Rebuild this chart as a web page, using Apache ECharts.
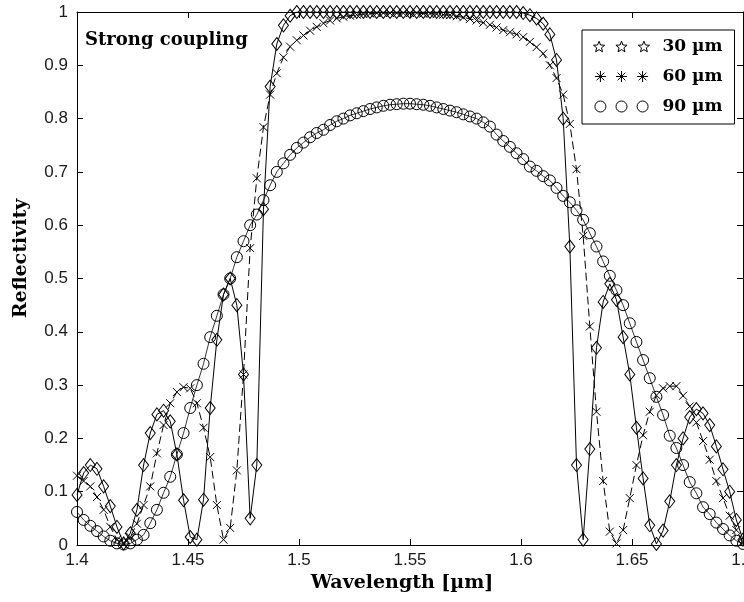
<!DOCTYPE html>
<html lang="en">
<head>
<meta charset="UTF-8">
<title>Strong coupling</title>
<script src="https://cdn.jsdelivr.net/npm/echarts@6/dist/echarts.min.js"></script>
<style>html,body{margin:0;padding:0;background:#fff;}</style>
</head>
<body>
<div id="box" style="width:744px;height:602px;"></div>
<script>
// wavelength grid (um)
var wavelength = [
    1.400,1.403,1.406,1.409,1.412,1.415,1.418,1.421,1.424,1.427,
    1.430,1.433,1.436,1.439,1.442,1.445,1.448,1.451,1.454,1.457,
    1.460,1.463,1.466,1.469,1.472,1.475,1.478,1.481,1.484,1.487,
    1.490,1.493,1.496,1.499,1.502,1.505,1.508,1.511,1.514,1.517,
    1.520,1.523,1.526,1.529,1.532,1.535,1.538,1.541,1.544,1.547,
    1.550,1.553,1.556,1.559,1.562,1.565,1.568,1.571,1.574,1.577,
    1.580,1.583,1.586,1.589,1.592,1.595,1.598,1.601,1.604,1.607,
    1.610,1.613,1.616,1.619,1.622,1.625,1.628,1.631,1.634,1.637,
    1.640,1.643,1.646,1.649,1.652,1.655,1.658,1.661,1.664,1.667,
    1.670,1.673,1.676,1.679,1.682,1.685,1.688,1.691,1.694,1.697,
    1.700
];
// 30 um (diamonds, solid)
var r30 = [
    0.094,0.135,0.150,0.143,0.110,0.073,0.034,0.003,0.022,0.066,
    0.150,0.210,0.245,0.252,0.232,0.170,0.084,0.015,0.010,0.085,
    0.257,0.385,0.470,0.500,0.450,0.320,0.050,0.150,0.630,0.860,
    0.940,0.975,0.993,1.000,1.000,1.000,1.000,1.000,1.000,1.000,
    1.000,1.000,1.000,1.000,1.000,1.000,1.000,1.000,1.000,1.000,
    1.000,1.000,1.000,1.000,1.000,1.000,1.000,1.000,1.000,1.000,
    1.000,1.000,1.000,1.000,1.000,1.000,1.000,0.998,0.994,0.988,
    0.978,0.958,0.910,0.800,0.560,0.150,0.010,0.180,0.370,0.456,
    0.490,0.460,0.390,0.320,0.220,0.125,0.037,0.002,0.027,0.082,
    0.150,0.200,0.240,0.255,0.247,0.225,0.185,0.142,0.100,0.047,
    0.010
];
// 60 um (crosses, dashed)
var r60 = [
    0.130,0.120,0.110,0.090,0.066,0.034,0.010,0.002,0.015,0.040,
    0.075,0.110,0.172,0.225,0.266,0.287,0.296,0.294,0.266,0.220,
    0.165,0.075,0.010,0.032,0.140,0.320,0.557,0.688,0.784,0.845,
    0.885,0.915,0.935,0.947,0.956,0.965,0.972,0.979,0.984,0.988,
    0.991,0.993,0.995,0.996,0.997,0.998,0.998,0.998,0.998,0.998,
    0.998,0.998,0.997,0.997,0.996,0.995,0.994,0.992,0.990,0.987,
    0.984,0.980,0.976,0.971,0.966,0.962,0.958,0.953,0.944,0.934,
    0.922,0.900,0.876,0.845,0.790,0.705,0.580,0.410,0.250,0.120,
    0.025,0.003,0.028,0.088,0.150,0.206,0.250,0.281,0.294,0.298,
    0.298,0.280,0.260,0.230,0.195,0.160,0.120,0.088,0.055,0.028,
    0.005
];
// 90 um (circles)
var r90 = [
    0.062,0.047,0.036,0.026,0.016,0.008,0.003,0.001,0.003,0.010,
    0.019,0.041,0.066,0.098,0.128,0.170,0.210,0.257,0.300,0.340,
    0.390,0.430,0.470,0.500,0.540,0.570,0.600,0.620,0.647,0.675,
    0.700,0.716,0.732,0.745,0.755,0.765,0.773,0.779,0.788,0.795,
    0.800,0.806,0.810,0.814,0.818,0.821,0.824,0.826,0.827,0.828,
    0.828,0.827,0.826,0.824,0.821,0.818,0.815,0.812,0.808,0.804,
    0.800,0.793,0.785,0.770,0.758,0.747,0.735,0.724,0.710,0.702,
    0.692,0.684,0.670,0.655,0.643,0.628,0.610,0.585,0.560,0.532,
    0.505,0.478,0.450,0.416,0.381,0.347,0.313,0.278,0.244,0.205,
    0.182,0.150,0.118,0.097,0.071,0.058,0.042,0.030,0.018,0.008,
    0.002
];
var seriesNames = ['30 \u00b5m', '60 \u00b5m', '90 \u00b5m'];

function pairs(ys) {
    return wavelength.map(function (w, i) { return [w, ys[i]]; });
}

// legend icons: three markers in a row
var starIcon = 'path://M7,1L8.53,4.9L12.71,5.15L9.47,7.8L10.53,11.85L7,9.6L3.47,11.85L4.53,7.8L1.29,5.15L5.47,4.9Z'
    + 'M30,1L31.53,4.9L35.71,5.15L32.47,7.8L33.53,11.85L30,9.6L26.47,11.85L27.53,7.8L24.29,5.15L28.47,4.9Z'
    + 'M53,1L54.53,4.9L58.71,5.15L55.47,7.8L56.53,11.85L53,9.6L49.47,11.85L50.53,7.8L47.29,5.15L51.47,4.9Z';
var astIcon = 'path://M7,1L7,13M1,7L13,7M2.8,2.8L11.2,11.2M11.2,2.8L2.8,11.2'
    + 'M30,1L30,13M24,7L36,7M25.8,2.8L34.2,11.2M34.2,2.8L25.8,11.2'
    + 'M53,1L53,13M47,7L59,7M48.8,2.8L57.2,11.2M57.2,2.8L48.8,11.2';
var circIcon = 'path://M1,7a6,6 0 1,0 12,0a6,6 0 1,0 -12,0'
    + 'M24,7a6,6 0 1,0 12,0a6,6 0 1,0 -12,0'
    + 'M47,7a6,6 0 1,0 12,0a6,6 0 1,0 -12,0';

var hollow = {color: 'rgba(0,0,0,0)', borderColor: '#000', borderWidth: 1};
var serif = 'DejaVu Serif';

var myChart = echarts.init(document.getElementById('box'));
var option = {
    animation: false,
    backgroundColor: '#fff',
    title: {
        text: 'Strong coupling',
        left: 85,
        top: 31,
        padding: 0,
        textStyle: {fontFamily: serif, fontWeight: 'bold', fontSize: 18, color: '#000'}
    },
    legend: {
        orient: 'vertical',
        left: 582,
        top: 30,
        padding: [8, 12, 9, 11],
        itemGap: 13,
        itemWidth: 56,
        itemHeight: 11,
        selectedMode: false,
        borderColor: '#000',
        borderWidth: 1,
        borderRadius: 0,
        backgroundColor: '#fff',
        textStyle: {fontFamily: serif, fontWeight: 'bold', fontSize: 17, color: '#000', padding: [0, 0, 0, 8]},
        data: [
            {name: seriesNames[0], icon: starIcon, itemStyle: hollow},
            {name: seriesNames[1], icon: astIcon, itemStyle: hollow},
            {name: seriesNames[2], icon: circIcon, itemStyle: hollow}
        ]
    },
    grid: {left: 77, right: 1, top: 12, bottom: 57, outerBoundsMode: 'none', containLabel: false},
    xAxis: [{
        type: 'value', min: 1.4, max: 1.7, interval: 0.05,
        name: 'Wavelength [\u00b5m]', nameLocation: 'middle', nameGap: 27,
        nameTextStyle: {fontFamily: serif, fontWeight: 'bold', fontSize: 19, color: '#000', padding: [0, 16, 0, 0]},
        axisLine: {onZero: false, lineStyle: {color: '#000', width: 1}},
        axisTick: {inside: true, length: 6, lineStyle: {color: '#000'}},
        axisLabel: {color: '#1a1a1a', fontFamily: 'Liberation Sans', fontSize: 17, margin: 7, hideOverlap: false},
        splitLine: {show: false}
    }, {
        type: 'value', min: 1.4, max: 1.7, interval: 0.05, position: 'top',
        axisLine: {onZero: false, lineStyle: {color: '#000', width: 1}},
        axisTick: {inside: true, length: 6, lineStyle: {color: '#000'}},
        axisLabel: {show: false},
        splitLine: {show: false}
    }],
    yAxis: [{
        type: 'value', min: 0, max: 1, interval: 0.1,
        name: 'Reflectivity', nameLocation: 'middle', nameGap: 46,
        nameTextStyle: {fontFamily: serif, fontWeight: 'bold', fontSize: 19, color: '#000', padding: [0, 0, 0, 40]},
        axisLine: {onZero: false, lineStyle: {color: '#000', width: 1}},
        axisTick: {inside: true, length: 6, lineStyle: {color: '#000'}},
        axisLabel: {color: '#1a1a1a', fontFamily: 'Liberation Sans', fontSize: 17, margin: 9},
        splitLine: {show: false}
    }, {
        type: 'value', min: 0, max: 1, interval: 0.1, position: 'right',
        axisLine: {onZero: false, lineStyle: {color: '#000', width: 1}},
        axisTick: {inside: true, length: 6, lineStyle: {color: '#000'}},
        axisLabel: {show: false},
        splitLine: {show: false}
    }],
    series: [
        {
            name: seriesNames[0], type: 'line', data: pairs(r30),
            symbol: 'diamond', symbolSize: [10, 13], showAllSymbol: true,
            itemStyle: hollow,
            lineStyle: {color: '#000', width: 1},
            emphasis: {disabled: true}
        },
        {
            name: seriesNames[1], type: 'line', data: pairs(r60),
            symbol: 'path://M0,0L10,10M10,0L0,10', symbolSize: 8, showAllSymbol: true,
            itemStyle: hollow,
            lineStyle: {color: '#000', width: 1, type: [8, 4]},
            emphasis: {disabled: true}
        },
        {
            name: seriesNames[2], type: 'line', data: pairs(r90),
            symbol: 'circle', symbolSize: 11, showAllSymbol: true,
            itemStyle: hollow,
            lineStyle: {color: '#000', width: 0.8},
            emphasis: {disabled: true}
        }
    ]
};
myChart.setOption(option);
</script>
</body>
</html>
